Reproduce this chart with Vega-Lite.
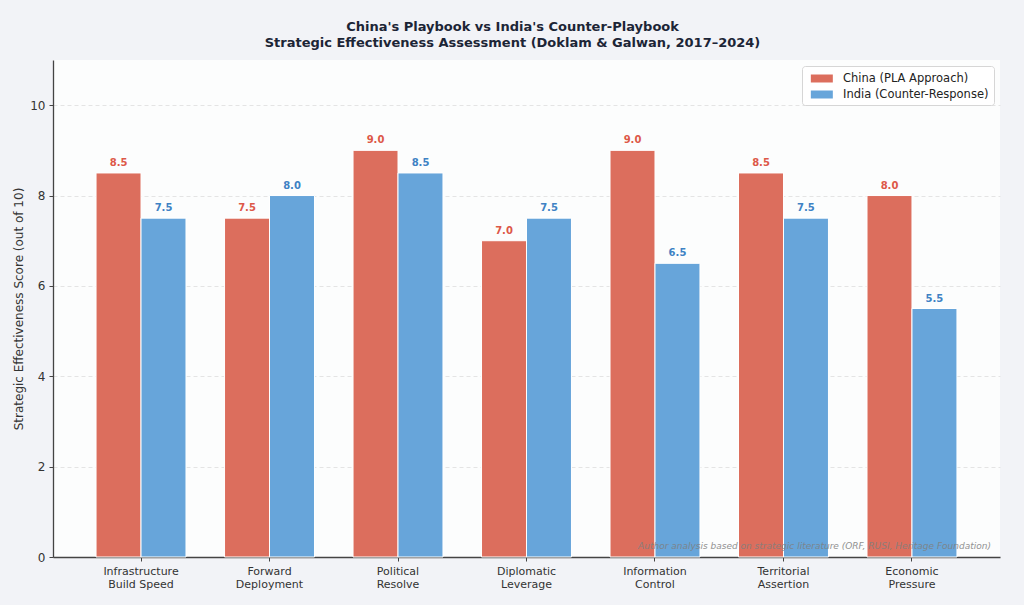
{
  "$schema": "https://vega.github.io/schema/vega-lite/v6.json",
  "autosize": {"type": "none"},
  "width": 947,
  "height": 497,
  "padding": {"left": 53, "top": 60, "right": 24, "bottom": 48},
  "background": "#f2f3f7",
  "config": {
    "font": "DejaVu Sans",
    "view": {"fill": "#fcfdfd", "stroke": null}
  },
  "title": {
    "text": ["China's Playbook vs India's Counter-Playbook", "Strategic Effectiveness Assessment (Doklam & Galwan, 2017–2024)"],
    "font": "DejaVu Sans",
    "fontSize": 13,
    "fontWeight": "bold",
    "color": "#1c2536",
    "anchor": "middle",
    "frame": "group",
    "dx": -14,
    "lineHeight": 16,
    "offset": 10
  },
  "data": {
    "values": [
      {"dimension": "Infrastructure\nBuild Speed", "actor": "China (PLA Approach)", "score": 8.5},
      {"dimension": "Infrastructure\nBuild Speed", "actor": "India (Counter-Response)", "score": 7.5},
      {"dimension": "Forward\nDeployment", "actor": "China (PLA Approach)", "score": 7.5},
      {"dimension": "Forward\nDeployment", "actor": "India (Counter-Response)", "score": 8.0},
      {"dimension": "Political\nResolve", "actor": "China (PLA Approach)", "score": 9.0},
      {"dimension": "Political\nResolve", "actor": "India (Counter-Response)", "score": 8.5},
      {"dimension": "Diplomatic\nLeverage", "actor": "China (PLA Approach)", "score": 7.0},
      {"dimension": "Diplomatic\nLeverage", "actor": "India (Counter-Response)", "score": 7.5},
      {"dimension": "Information\nControl", "actor": "China (PLA Approach)", "score": 9.0},
      {"dimension": "Information\nControl", "actor": "India (Counter-Response)", "score": 6.5},
      {"dimension": "Territorial\nAssertion", "actor": "China (PLA Approach)", "score": 8.5},
      {"dimension": "Territorial\nAssertion", "actor": "India (Counter-Response)", "score": 7.5},
      {"dimension": "Economic\nPressure", "actor": "China (PLA Approach)", "score": 8.0},
      {"dimension": "Economic\nPressure", "actor": "India (Counter-Response)", "score": 5.5}
    ]
  },
  "encoding": {
    "x": {
      "field": "dimension",
      "type": "nominal",
      "sort": null,
      "scale": {"paddingInner": 0.3, "paddingOuter": 0.335},
      "axis": {
        "title": null,
        "labelAngle": 0,
        "labelExpr": "split(datum.label, '\\n')",
        "labelFont": "DejaVu Sans",
        "labelFontSize": 11,
        "labelColor": "#333333",
        "labelLineHeight": 13,
        "labelPadding": 4,
        "domainColor": "#444444",
        "domainWidth": 1.3,
        "tickColor": "#444444",
        "tickSize": 4,
        "grid": false
      }
    }
  },
  "layer": [
    {
      "mark": {"type": "bar", "stroke": "#ffffff", "strokeWidth": 1},
      "encoding": {
        "xOffset": {"field": "actor", "type": "nominal", "scale": {"paddingInner": 0, "paddingOuter": 0}},
        "y": {
          "field": "score",
          "type": "quantitative",
          "scale": {"domain": [0, 11], "nice": false},
          "axis": {
            "title": "Strategic Effectiveness Score (out of 10)",
            "titleFont": "DejaVu Sans",
            "titleFontSize": 12,
            "titleFontWeight": "normal",
            "titleColor": "#333333",
            "titlePadding": 4,
            "values": [0, 2, 4, 6, 8, 10],
            "labelFont": "DejaVu Sans",
            "labelFontSize": 12,
            "labelColor": "#333333",
            "labelPadding": 4,
            "domainColor": "#444444",
            "domainWidth": 1.3,
            "tickColor": "#444444",
            "tickSize": 4,
            "grid": true,
            "gridColor": "#dddddd",
            "gridDash": [4, 3],
            "gridWidth": 0.8
          }
        },
        "color": {
          "field": "actor",
          "type": "nominal",
          "scale": {
            "domain": ["China (PLA Approach)", "India (Counter-Response)"],
            "range": ["#dc6e5d", "#67a5da"]
          },
          "legend": {
            "title": null,
            "orient": "top-right",
            "offset": 6,
            "fillColor": "#ffffff",
            "strokeColor": "#d6d6d6",
            "cornerRadius": 3,
            "padding": 5,
            "labelFont": "DejaVu Sans",
            "labelFontSize": 11.5,
            "labelColor": "#222222",
            "labelOffset": 21,
            "symbolType": "M-0.5,-0.545H2.5V0.545H-0.5Z",
            "symbolSize": 215,
            "symbolStrokeWidth": 0,
            "rowPadding": 3
          }
        }
      }
    },
    {
      "mark": {"type": "text", "baseline": "bottom", "dy": -5, "fontWeight": "bold", "fontSize": 10, "font": "DejaVu Sans"},
      "encoding": {
        "xOffset": {"field": "actor", "type": "nominal", "scale": {"paddingInner": 0, "paddingOuter": 0}},
        "y": {"field": "score", "type": "quantitative"},
        "text": {"field": "score", "type": "quantitative", "format": ".1f"},
        "color": {
          "field": "actor",
          "type": "nominal",
          "scale": {
            "domain": ["China (PLA Approach)", "India (Counter-Response)"],
            "range": ["#dd5848", "#3e82c4"]
          },
          "legend": null
        }
      }
    },
    {
      "data": {"values": [{"note": "Author analysis based on strategic literature (ORF, RUSI, Heritage Foundation)", "at": 0.25}]},
      "mark": {"type": "text", "align": "right", "baseline": "middle", "fontStyle": "italic", "fontSize": 9, "color": "#808080", "opacity": 0.85, "dx": -9},
      "encoding": {
        "x": {"value": "width"},
        "y": {"field": "at", "type": "quantitative"},
        "text": {"field": "note", "type": "nominal"}
      }
    }
  ],
  "resolve": {"scale": {"color": "independent"}}
}
